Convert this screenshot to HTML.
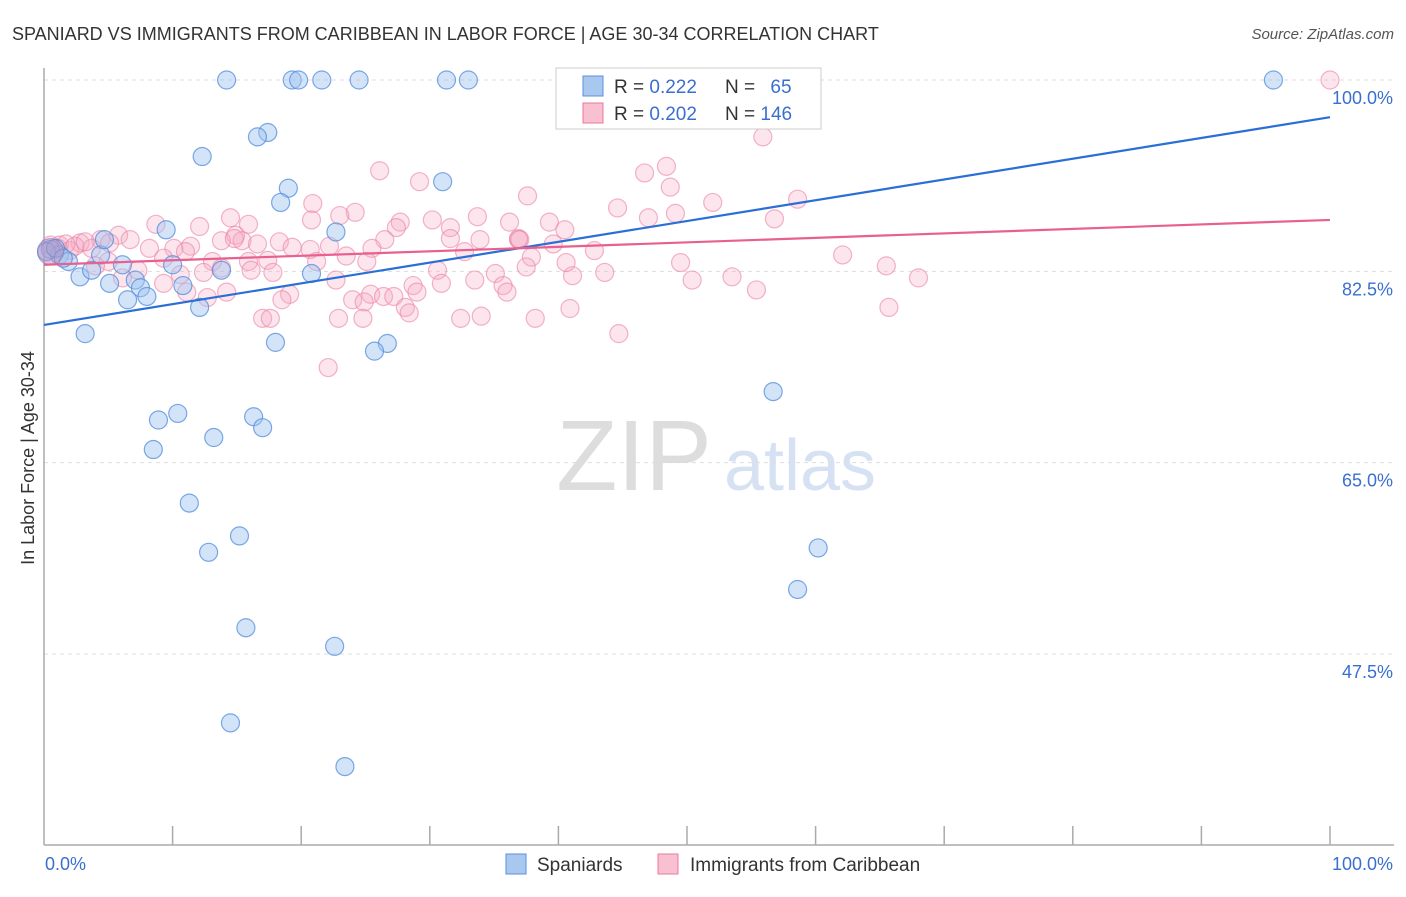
<!DOCTYPE html>
<html><head><meta charset="utf-8"><style>
body{margin:0;background:#fff;font-family:"Liberation Sans",sans-serif}
svg text{font-family:"Liberation Sans",sans-serif}
</style></head><body>
<svg id="chart" width="1406" height="892" viewBox="0 0 1406 892" xmlns="http://www.w3.org/2000/svg">
<text x="12" y="40" font-size="18" fill="#333">SPANIARD VS IMMIGRANTS FROM CARIBBEAN IN LABOR FORCE | AGE 30-34 CORRELATION CHART</text>
<text x="1394" y="39" font-size="15" fill="#555" text-anchor="end" font-style="italic">Source: ZipAtlas.com</text>
<text x="634" y="490" font-size="100" fill="#ddd" text-anchor="middle" font-family="Liberation Serif">ZIP</text>
<text x="800" y="490" font-size="72" fill="#d6e2f3" text-anchor="middle">atlas</text>
<g id="grid"></g><g id="axes"></g><g id="pts"></g><g id="lines"></g>
<g>
<rect x="556" y="68" width="265" height="61" fill="#fff" stroke="#ccc"/>
<rect x="583" y="76" width="20" height="20" fill="#a9c8f0" stroke="#5b8fdd"/>
<rect x="583" y="103" width="20" height="20" fill="#f8c0d0" stroke="#e8799b"/>
<text x="614" y="93" font-size="19" fill="#333">R = <tspan fill="#3a6fd0">0.222</tspan></text>
<text x="725" y="93" font-size="19" fill="#333">N = <tspan fill="#3a6fd0" dx="10">65</tspan></text>
<text x="614" y="120" font-size="19" fill="#333">R = <tspan fill="#3a6fd0">0.202</tspan></text>
<text x="725" y="120" font-size="19" fill="#333">N = <tspan fill="#3a6fd0">146</tspan></text>
</g>
<rect x="506" y="854" width="20" height="20" fill="#a9c8f0" stroke="#5b8fdd"/>
<text x="537" y="871" font-size="19" fill="#333">Spaniards</text>
<rect x="658" y="854" width="20" height="20" fill="#f8c0d0" stroke="#e8799b"/>
<text x="690" y="871" font-size="19" fill="#333">Immigrants from Caribbean</text>
<text x="34" y="458" font-size="18" fill="#333" text-anchor="middle" transform="rotate(-90 34 458)">In Labor Force | Age 30-34</text>
</svg>
<script>
const yTicks=[100,82.5,65,47.5];
const yTickLabels=["100.0%","82.5%","65.0%","47.5%"];
const xTickLabels=["0.0%","100.0%"];
const blueX=[14.2,19.3,19.8,21.6,24.5,31.3,33.0,95.6,44.4,51.9,17.4,16.6,12.3,19.0,18.4,31.0,22.7,9.5,0.5,1.2,1.9,4.4,4.7,2.8,3.7,6.1,5.1,7.1,7.5,6.5,8.0,10.0,10.8,13.8,20.8,12.1,3.2,18.0,26.7,25.7,56.7,8.9,10.4,16.3,17.0,13.2,8.5,11.3,15.2,12.8,60.2,58.6,15.7,22.6,14.5,23.4,0.2,0.9,1.5];
const blueY=[100,100,100,100,100,100,100,100,100,100,95.2,94.8,93.0,90.1,88.8,90.7,86.1,86.3,84.5,84.0,83.4,84.0,85.4,82.0,82.6,83.1,81.4,81.7,81.0,79.9,80.2,83.1,81.2,82.6,82.3,79.2,76.8,76.0,75.9,75.2,71.5,68.9,69.5,69.2,68.2,67.3,66.2,61.3,58.3,56.8,57.2,53.4,49.9,48.2,41.2,37.2,84.3,84.6,83.7];
const pinkX=[100,55.9,26.1,48.4,46.7,48.7,29.2,37.6,58.6,52.0,20.9,44.6,24.2,14.5,33.7,47.0,49.1,56.8,30.2,27.7,36.2,39.3,15.9,8.7,12.1,20.8,23.0,31.6,40.5,31.6,27.4,26.5,14.9,5.8,6.7,4.4,2.8,1.2,2.0,3.7,5.1,8.2,10.1,11.4,13.8,15.4,16.6,18.3,19.3,20.7,22.2,25.5,32.7,36.9,39.6,42.8,37.9,36.9,62.1,49.5,65.5,9.3,11.0,13.1,15.9,17.4,23.5,25.1,7.3,5.0,4.0,6.1,10.6,12.4,13.8,16.1,17.8,21.2,22.7,30.6,35.1,37.5,41.1,43.6,50.4,53.5,68.0,55.4,9.3,11.1,12.7,14.2,19.1,18.5,25.4,26.4,27.2,28.7,29.0,30.9,33.5,35.7,36.0,40.6,24.0,24.9,28.1,28.4,17.0,17.6,22.9,24.8,32.4,34.0,38.2,40.9,44.7,65.7,22.1,14.8,37.0,33.9,0.5,1.1,1.7,2.4,3.2];
const pinkY=[100,94.8,91.7,92.1,91.5,90.2,90.7,89.4,89.1,88.8,88.7,88.3,87.9,87.4,87.5,87.4,87.8,87.3,87.2,87.0,87.0,87.0,86.8,86.8,86.6,87.2,87.6,86.5,86.3,85.5,86.5,85.4,85.8,85.8,85.4,85.4,85.1,84.9,84.4,84.6,85.1,84.6,84.6,84.8,85.3,85.3,85.0,85.2,84.7,84.5,84.8,84.6,84.3,85.4,85.0,84.4,83.8,85.5,84.0,83.3,83.0,83.7,84.3,83.4,83.4,83.5,83.9,83.4,82.6,83.4,83.0,81.9,82.2,82.4,82.8,82.6,82.4,83.4,81.7,82.6,82.3,82.9,82.1,82.4,81.7,82.0,81.9,80.8,81.4,80.6,80.1,80.6,80.4,79.9,80.4,80.2,80.2,81.2,80.6,81.4,81.7,81.2,80.6,83.3,79.9,79.7,79.2,78.7,78.2,78.2,78.2,78.2,78.2,78.4,78.2,79.1,76.8,79.2,73.7,85.5,85.4,85.4,84.9,84.6,85.0,84.8,85.2];
const blueTrend=[77.6,96.6];
const pinkTrend=[83.1,87.2];
const NS="http://www.w3.org/2000/svg";
const X0=44,X1=1330,YTOP=80,PXP=10.933;
function sx(v){return X0+(X1-X0)*v/100;}
function sy(v){return YTOP+(100-v)*PXP;}
function mk(tag,attrs,parent){const e=document.createElementNS(NS,tag);for(const k in attrs)e.setAttribute(k,attrs[k]);parent.appendChild(e);return e;}
const grid=document.getElementById('grid'),axes=document.getElementById('axes'),pts=document.getElementById('pts'),lines=document.getElementById('lines');
yTicks.forEach((t,i)=>{
  const l=mk('line',{x1:X0,x2:1394,y1:sy(t),y2:sy(t),stroke:'#ddd','stroke-dasharray':'4,4'},grid);
  
  
  const tx=mk('text',{x:1393,y:sy(t)+24,'font-size':18,fill:'#3a6fd0','text-anchor':'end'},grid);
  tx.textContent=yTickLabels[i];
  
  
});
const ya=mk('line',{x1:X0,x2:X0,y1:68,y2:845,stroke:'#aaa','stroke-width':1.5},axes);


const xa=mk('line',{x1:X0,x2:1394,y1:845,y2:845,stroke:'#aaa','stroke-width':1.5},axes);


for(let i=1;i<=10;i++){
  const t=mk('line',{x1:sx(i*10),x2:sx(i*10),y1:826,y2:845,stroke:'#aaa','stroke-width':1.5},axes);
  
  
}
const xl0=mk('text',{x:45,y:870,'font-size':18,fill:'#3a6fd0'},axes);xl0.textContent=xTickLabels[0];


const xl1=mk('text',{x:1393,y:870,'font-size':18,fill:'#3a6fd0','text-anchor':'end'},axes);xl1.textContent=xTickLabels[1];


pinkX.forEach((v,i)=>{
  const c=mk('circle',{cx:sx(v),cy:sy(pinkY[i]),r:9,fill:'rgba(245,170,195,0.3)',stroke:'rgba(235,130,165,0.6)','stroke-width':1.2},pts);
  
  
});
blueX.forEach((v,i)=>{
  const c=mk('circle',{cx:sx(v),cy:sy(blueY[i]),r:9,fill:'rgba(160,195,240,0.45)',stroke:'rgba(80,140,220,0.75)','stroke-width':1.2},pts);
  
  
});
const big=mk('circle',{cx:sx(0.5),cy:sy(84.3),r:13,fill:'rgba(180,140,190,0.5)',stroke:'rgba(120,130,200,0.7)'},pts);


const bl=mk('line',{x1:sx(0),y1:sy(blueTrend[0]),x2:sx(100),y2:sy(blueTrend[1]),stroke:'#2a6fd6','stroke-width':2.2},lines);


const pl=mk('line',{x1:sx(0),y1:sy(pinkTrend[0]),x2:sx(100),y2:sy(pinkTrend[1]),stroke:'#e8608e','stroke-width':2.2},lines);


</script>
</body></html>
